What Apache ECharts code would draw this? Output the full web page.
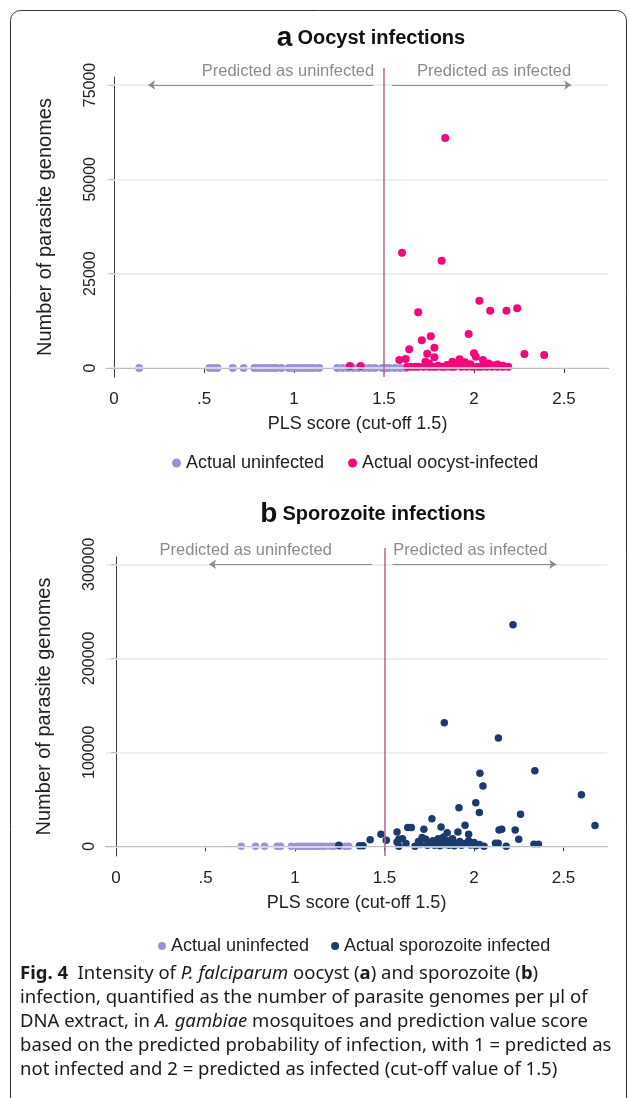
<!DOCTYPE html>
<html><head><meta charset="utf-8">
<script src="https://cdn.jsdelivr.net/npm/echarts@6/dist/echarts.min.js"></script>
<style>html,body{margin:0;padding:0;background:#fff}#c{width:630px;height:1098px}</style>
</head><body><div id="c"></div>
<script>
// ---------- data ----------
const xTicks = [0, 0.5, 1, 1.5, 2, 2.5];
const xTickLabels = ['0', '.5', '1', '1.5', '2', '2.5'];
const yTicksA = [0, 25000, 50000, 75000];
const yTicksB = [0, 100000, 200000, 300000];
const cutoff = 1.5;

// Panel a: actual uninfected (all 0 genomes)
const aUninfX = [0.14, 0.53, 0.555, 0.575, 0.66, 0.72, 0.78, 0.80, 0.82, 0.84, 0.86, 0.88, 0.90, 0.93,
  0.97, 0.99, 1.01, 1.03, 1.05, 1.07, 1.09, 1.11, 1.14, 1.24, 1.27, 1.30, 1.33, 1.36, 1.39, 1.42, 1.45,
  1.49, 1.51, 1.53, 1.56, 1.59, 1.62];
// Panel a: actual oocyst-infected [PLS score, genomes]
const aOocyst = [
  [1.31, 500], [1.37, 500],
  [1.60, 30570], [1.82, 28450], [1.84, 60970],
  [1.69, 14770], [2.03, 17840], [2.09, 15190], [2.18, 15190], [2.24, 15830],
  [1.97, 9010], [1.76, 8400], [1.71, 7340], [1.64, 4950], [1.78, 5380], [1.74, 3790], [2.28, 3710], [2.39, 3450],
  [1.585, 2120], [1.62, 2390], [1.78, 2830], [2.00, 3890], [1.73, 1670], [1.92, 2300], [2.01, 3000],
  [2.05, 2120], [1.88, 1670], [1.95, 1500], [1.90, 900], [2.08, 1200], [2.10, 700], [1.98, 1000],
  [1.85, 800], [1.80, 600], [1.75, 1200], [2.13, 900], [2.16, 600],
  [1.63, 300], [1.65, 300], [1.67, 300], [1.69, 300], [1.72, 300], [1.75, 300], [1.77, 300], [1.79, 300],
  [1.82, 300], [1.84, 300], [1.87, 300], [1.89, 300], [1.93, 300], [1.96, 300], [1.99, 300], [2.02, 300],
  [2.04, 300], [2.07, 300], [2.10, 300], [2.13, 300], [2.16, 300], [2.19, 300]
];

// Panel b: actual uninfected (all 0 genomes)
const bUninfX = [0.70, 0.78, 0.83, 0.90, 0.92, 0.98, 1.01, 1.03, 1.05, 1.07, 1.09, 1.11, 1.13, 1.15,
  1.17, 1.20, 1.22, 1.25, 1.28, 1.30];
// Panel b: actual sporozoite infected [PLS score, genomes]
const bSporo = [
  [1.245, 1000], [1.36, 500], [1.38, 500], [1.42, 7100], [1.48, 12700], [1.51, 6400], [1.57, 15200],
  [1.57, 4600], [1.58, 7450], [1.58, 0], [1.63, 19890], [1.65, 19890], [1.67, 0], [1.72, 18090],
  [1.71, 9260], [1.73, 7450], [1.765, 29430], [1.816, 20570], [1.85, 14540], [1.91, 15210],
  [1.916, 41130], [1.95, 22340], [1.97, 12770], [2.01, 46450], [2.03, 35840], [2.033, 77660],
  [2.05, 64150], [2.056, 0], [2.12, 3190], [2.135, 3190], [2.14, 17340], [2.155, 18090], [2.18, 0],
  [2.23, 17340], [2.25, 7450], [2.26, 34040], [2.335, 2130], [2.36, 2130], [2.34, 80500],
  [2.60, 54960], [2.676, 22000], [2.218, 235700], [1.834, 131500], [2.136, 115200],
  [1.60, 8000], [1.62, 3000], [1.69, 5000], [1.70, 2000], [1.74, 1000], [1.75, 4000], [1.77, 6000],
  [1.78, 1000], [1.79, 3000], [1.80, 8000], [1.81, 500], [1.82, 4000], [1.83, 10000], [1.84, 2000],
  [1.85, 6000], [1.86, 1000], [1.87, 3500], [1.88, 8000], [1.89, 500], [1.90, 2500], [1.92, 5000],
  [1.93, 1000], [1.95, 3000], [1.97, 6000], [1.98, 1500], [2.00, 4000], [2.01, 500], [2.03, 2000]
];

// annotation arrows [from, to] in PLS units
const arrowsA = [[1.44, 0.19], [1.545, 2.54]];
const arrowsB = [[1.43, 0.52], [1.545, 2.46]];

// ---------- styles ----------
const FONT = 'Liberation Sans';
const C_UNINF = '#9a94d4';
const C_OOCYST = '#f2077c';
const C_SPORO = '#1d3a6c';
const C_CUT = '#b5698a';
const C_GRID = '#e7ebee';
const C_AXIS = '#3a3a3a';
const C_ANN = '#8c8c8c';

const chart = echarts.init(document.getElementById('c'), null, {renderer: 'canvas'});

function xAxisCfg(gi, min, max) {
  return {
    type: 'value', gridIndex: gi, min: min, max: max,
    name: 'PLS score (cut-off 1.5)', nameLocation: 'middle', nameGap: 38,
    nameTextStyle: {fontFamily: FONT, fontSize: 18, color: '#222'},
    axisLine: {show: true, lineStyle: {color: C_AXIS, width: 1}},
    axisTick: {show: true, length: 5, lineStyle: {color: C_AXIS}, customValues: xTicks},
    axisLabel: {show: true, fontFamily: FONT, fontSize: 17, color: '#222', margin: 14,
      customValues: xTicks, formatter: v => xTickLabels[xTicks.indexOf(v)] ?? ''},
    splitLine: {show: false}
  };
}
function yAxisCfg(gi, min, max, ticks) {
  return {
    type: 'value', gridIndex: gi, min: min, max: max,
    name: 'Number of parasite genomes', nameLocation: 'middle', nameGap: 52,
    nameTextStyle: {fontFamily: FONT, fontSize: 20, color: '#222'},
    axisLine: {show: true, lineStyle: {color: C_AXIS, width: 1}},
    axisTick: {show: true, length: 5, lineStyle: {color: C_AXIS}, customValues: ticks},
    axisLabel: {show: true, fontFamily: FONT, fontSize: 16, color: '#222', margin: 8, rotate: 90,
      customValues: ticks, formatter: v => String(v)},
    splitLine: {show: false}
  };
}
function hiddenAxis(gi, min, max) {
  return {type: 'value', gridIndex: gi, min: min, max: max, show: false,
    axisLine: {show: false}, axisTick: {show: false}, axisLabel: {show: false}, splitLine: {show: false}};
}
function gridSeries(xi, yi, ticks) {
  return {
    type: 'scatter', xAxisIndex: xi, yAxisIndex: yi, data: [], silent: true, z: 1,
    markLine: {
      silent: true, symbol: ['none', 'none'], animation: false, label: {show: false},
      lineStyle: {color: C_GRID, width: 1.5, type: 'solid'},
      data: ticks.map(t => ({yAxis: t}))
    }
  };
}
function cutSeries(xi, yi) {
  return {
    type: 'scatter', xAxisIndex: xi, yAxisIndex: yi, data: [], silent: true, z: 5,
    markLine: {
      silent: true, symbol: ['none', 'none'], animation: false, label: {show: false},
      lineStyle: {color: C_CUT, width: 1.5, type: 'solid'},
      data: [{xAxis: cutoff}]
    }
  };
}
function arrowSeries(xi, yi, arrows, yv) {
  return {
    type: 'scatter', xAxisIndex: xi, yAxisIndex: yi, data: [], silent: true, z: 2,
    markLine: {
      silent: true, symbol: ['none', 'arrow'], symbolSize: [7, 7], animation: false,
      label: {show: false},
      lineStyle: {color: C_ANN, width: 1, type: 'solid'},
      data: arrows.map(a => [{coord: [a[0], yv]}, {coord: [a[1], yv]}])
    }
  };
}

const titleRich = {
  a: {fontFamily: FONT, fontSize: 28, fontWeight: 'bold', color: '#111'},
  t: {fontFamily: FONT, fontSize: 20, fontWeight: 'bold', color: '#111'}
};
const legendText = {fontFamily: FONT, fontSize: 18, color: '#222'};

const option = {
  animation: false,
  backgroundColor: '#fff',
  title: [
    {text: '{a|a} {t|Oocyst infections}', left: 366, top: 19, textAlign: 'center',
      textStyle: {rich: titleRich}},
    {text: '{a|b} {t|Sporozoite infections}', left: 368, top: 495, textAlign: 'center',
      textStyle: {rich: titleRich}}
  ],
  legend: [
    {data: [{name: 'Actual uninfected'}, {name: 'Actual oocyst-infected'}], left: 167, top: 449,
      icon: 'circle', itemWidth: 9, itemHeight: 9, itemGap: 24, selectedMode: false,
      textStyle: legendText},
    {data: [{name: 'Actual uninfected'}, {name: 'Actual sporozoite infected'}], left: 153, top: 932,
      icon: 'circle', itemWidth: 8, itemHeight: 8, itemGap: 22, selectedMode: false,
      textStyle: legendText}
  ],
  grid: [
    {left: 107, top: 77, width: 501, height: 300},
    {left: 106, top: 557, width: 501, height: 299},
    {left: 107, top: 68, width: 501, height: 309},
    {left: 106, top: 548, width: 501, height: 308}
  ],
  xAxis: [xAxisCfg(0, -0.03889, 2.7444), xAxisCfg(1, -0.05587, 2.743),
    hiddenAxis(2, -0.03889, 2.7444), hiddenAxis(3, -0.05587, 2.743)],
  yAxis: [yAxisCfg(0, -2385, 77115, yTicksA), yAxisCfg(1, -10319, 307760, yTicksB),
    hiddenAxis(2, 0, 1), hiddenAxis(3, 0, 1)],
  series: [
    gridSeries(0, 0, yTicksA),
    arrowSeries(0, 0, arrowsA, 75000),
    gridSeries(1, 1, yTicksB),
    arrowSeries(1, 1, arrowsB, 300000),
    cutSeries(2, 2),
    cutSeries(3, 3),
    {name: 'Actual uninfected', type: 'scatter', xAxisIndex: 0, yAxisIndex: 0, z: 3,
      symbolSize: 8, itemStyle: {color: C_UNINF, opacity: 1},
      data: aUninfX.map(x => [x, 0])},
    {name: 'Actual oocyst-infected', type: 'scatter', xAxisIndex: 0, yAxisIndex: 0, z: 4,
      symbolSize: 8, itemStyle: {color: C_OOCYST, opacity: 1},
      data: aOocyst},
    {name: 'Actual uninfected', type: 'scatter', xAxisIndex: 1, yAxisIndex: 1, z: 3,
      symbolSize: 7.5, itemStyle: {color: C_UNINF, opacity: 1},
      data: bUninfX.map(x => [x, 0])},
    {name: 'Actual sporozoite infected', type: 'scatter', xAxisIndex: 1, yAxisIndex: 1, z: 4,
      symbolSize: 7.5, itemStyle: {color: C_SPORO, opacity: 1},
      data: bSporo}
  ]
};
chart.setOption(option);

// annotations placed via the library's coordinate conversion
function annPos(gi, x, y) { return chart.convertToPixel({gridIndex: gi}, [x, y]); }
const pA1 = annPos(0, arrowsA[0][0], 75000), pA2 = annPos(0, arrowsA[1][1], 75000);
const pB1 = annPos(1, arrowsB[0][0], 300000), pB2 = annPos(1, arrowsB[1][1], 300000);
const annStyle = {fontFamily: FONT, fontSize: 16.5, fill: C_ANN, textVerticalAlign: 'bottom'};

const capFont = 'Noto Sans';
const capSize = 18.5;
const capRich = {
  b: {fontFamily: capFont, fontSize: capSize, fontWeight: 'bold', fill: '#1a1a1a'},
  i: {fontFamily: capFont, fontSize: capSize, fontStyle: 'italic', fill: '#1a1a1a'},
  r: {fontFamily: capFont, fontSize: capSize, fill: '#1a1a1a'}
};
const capLines = [
  '{b|Fig. 4}{r|  Intensity of }{i|P. falciparum}{r| oocyst (}{b|a}{r|) and sporozoite (}{b|b}{r|)}',
  '{r|infection, quantified as the number of parasite genomes per µl of}',
  '{r|DNA extract, in }{i|A. gambiae}{r| mosquitoes and prediction value score}',
  '{r|based on the predicted probability of infection, with 1 = predicted as}',
  '{r|not infected and 2 = predicted as infected (cut-off value of 1.5)}'
];
const capY = [974, 998, 1022, 1046, 1070];

chart.setOption({
  graphic: [
    {type: 'rect', shape: {x: 10.5, y: 10.5, width: 616, height: 1200, r: 10}, silent: true, z: -10,
      style: {fill: 'none', stroke: '#333', lineWidth: 1}},
    {type: 'text', x: pA1[0] + 1, y: pA1[1] - 5, style: Object.assign({text: 'Predicted as uninfected', textAlign: 'right'}, annStyle)},
    {type: 'text', x: pA2[0], y: pA2[1] - 5, style: Object.assign({text: 'Predicted as infected', textAlign: 'right'}, annStyle)},
    {type: 'text', x: pB1[0] - 40, y: pB1[1] - 5, style: Object.assign({text: 'Predicted as uninfected', textAlign: 'right'}, annStyle)},
    {type: 'text', x: pB2[0] - 9, y: pB2[1] - 5, style: Object.assign({text: 'Predicted as infected', textAlign: 'right'}, annStyle)}
  ].concat(capLines.map((t, i) => ({
    type: 'text', x: 20, y: capY[i], silent: true,
    style: {text: t, rich: capRich, textVerticalAlign: 'middle', fontFamily: capFont, fontSize: capSize}
  })))
});
</script></body></html>
